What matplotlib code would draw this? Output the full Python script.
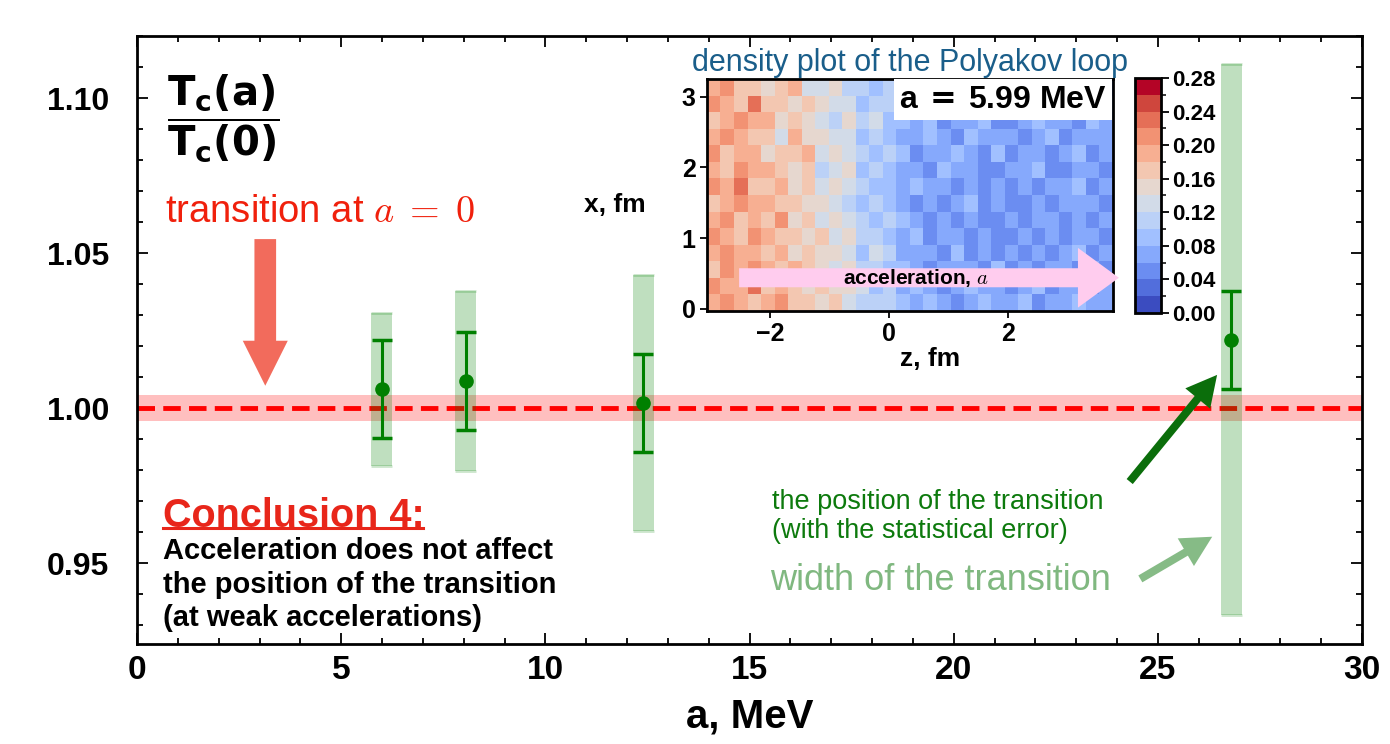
import numpy as np
import matplotlib
matplotlib.use('Agg')
import matplotlib.pyplot as plt
from matplotlib.ticker import MultipleLocator, FormatStrFormatter

plt.rcParams['font.family'] = ['Liberation Sans', 'DejaVu Sans']
plt.rcParams['font.weight'] = 'bold'
plt.rcParams['axes.labelweight'] = 'bold'

# critical temperature ratio vs acceleration
a_vals = [5.99, 8.05, 12.4, 26.8]
tc_ratio = [1.0060, 1.0088, 1.0017, 1.0220]
tc_err = [0.0158, 0.0158, 0.0158, 0.0157]
tc_width = [0.0247, 0.0291, 0.0412, 0.0889]
tc0 = 1.0
tc0_err = 0.0041

# inset: Polyakov loop density, level index per cell (value = 0.02*level + 0.01)
# rows listed from top (x = 3.25 fm) to bottom (x = 0), columns along z
poly_rows = [
    "9a88" "7896" "675" "545" "4334342334233432",
    "a98b" "8878" "766" "455" "3433423342324334",
    "89a9" "9787" "657" "564" "4342334223433243",
    "9a98" "8697" "766" "454" "3343243332342333",
    "a899" "7889" "676" "545" "4233432423323423",
    "98a9" "9878" "567" "454" "3324332233422332",
    "a9b8" "8978" "676" "544" "3433232323233423",
    "89a9" "9887" "765" "454" "3232342322323332",
    "9a89" "8a78" "676" "545" "4323232232332323",
    "a98a" "9887" "867" "554" "3423323223232332",
    "9a99" "8978" "776" "465" "3332423232323423",
    "8a9a" "9898" "767" "554" "4323332423233232",
    "a99b" "8987" "877" "645" "3432343323423323",
    "9a98" "9a88" "786" "555" "4343234334233433",
]
z_range = (-3.06, 3.76)
x_range = (-0.03, 3.25)

poly = np.array([[int(c, 16) * 0.02 + 0.01 for c in row] for row in poly_rows])[::-1]

fig = plt.figure(figsize=(13.9, 7.44), dpi=100)
ax = fig.add_axes([0.0986, 0.1344, 0.8813, 0.8172])

# reference band at a = 0
ax.axhspan(tc0 - tc0_err, tc0 + tc0_err, color='red', alpha=0.25, lw=0, zorder=1)
ax.axhline(tc0, color='red', lw=3.5, ls=(0, (3.6, 1.7)), zorder=2)

# transition width bands
lo = np.array(tc_ratio) - np.array(tc_width)
hi = np.array(tc_ratio) + np.array(tc_width)
ax.bar(a_vals, hi - lo, bottom=lo, width=0.52, color='green', alpha=0.25, lw=0, zorder=2)
ax.hlines(lo, np.array(a_vals) - 0.26, np.array(a_vals) + 0.26, color='green', alpha=0.2, lw=2)
ax.hlines(hi, np.array(a_vals) - 0.26, np.array(a_vals) + 0.26, color='green', alpha=0.2, lw=2)

ax.errorbar(a_vals, tc_ratio, yerr=tc_err, fmt='o', color='green', ms=9.5,
            capsize=7.5, elinewidth=2.2, capthick=2.5, zorder=4)

ax.set_xlim(0, 30)
ax.set_ylim(0.9239, 1.12)
ax.xaxis.set_major_locator(MultipleLocator(5))
ax.xaxis.set_minor_locator(MultipleLocator(1))
ax.yaxis.set_major_locator(MultipleLocator(0.05))
ax.yaxis.set_minor_locator(MultipleLocator(0.01))
ax.yaxis.set_major_formatter(FormatStrFormatter('%.2f'))
ax.tick_params(which='both', direction='in', top=True, right=True, width=1.3)
ax.tick_params(which='major', length=8, labelsize=24)
ax.tick_params(axis='y', labelsize=23, pad=20)
ax.tick_params(which='minor', length=4.5)
ax.tick_params(axis='x', pad=8)
for s in ax.spines.values():
    s.set_linewidth(2)
ax.set_xlabel('a, MeV', fontsize=29, labelpad=8)

# annotations
ax.text(2.1, 1.0935, r'$\mathbf{\dfrac{T_c(a)}{T_c(0)}}$', fontsize=29,
        ha='center', va='center', math_fontfamily='dejavusans')
ax.text(0.69, 1.0632, r'transition at $a\;=\;0$', color='#f0200c', fontsize=27.5,
        fontweight='normal', ha='left', va='center', math_fontfamily='cm')
ax.annotate('', xy=(3.14, 1.0072), xytext=(3.14, 1.0545),
            arrowprops=dict(arrowstyle='simple,head_length=1.08,head_width=1.08,tail_width=0.52',
                            mutation_scale=30, color='#f26b5c', shrinkA=0, shrinkB=0, lw=0))

ax.text(0.64, 0.9653, 'Conclusion 4:', color='#e8261a', fontsize=28.5, ha='left', va='center')
ax.plot([0.64, 7.0], [0.9612, 0.9612], color='#e8261a', lw=2.2)
ax.text(0.64, 0.9430, 'Acceleration does not affect\nthe position of the transition\n(at weak accelerations)',
        fontsize=21, ha='left', va='center', linespacing=1.25)

ax.text(15.56, 0.9650, 'the position of the transition\n(with the statistical error)',
        color='#0d7a0d', fontsize=19.5, fontweight='normal', ha='left', va='center', linespacing=1.15)
ax.annotate('', xy=(26.45, 1.0107), xytext=(24.31, 0.9763),
            arrowprops=dict(arrowstyle='simple,head_length=1.0,head_width=1.05,tail_width=0.26',
                            mutation_scale=22, color='#0b6e0b', shrinkA=0, shrinkB=0, lw=0))
ax.text(15.5, 0.9443, 'width of the transition', color='#80b880', fontsize=26,
        fontweight='normal', ha='left', va='center')
ax.annotate('', xy=(26.33, 0.9585), xytext=(24.57, 0.9449),
            arrowprops=dict(arrowstyle='simple,head_length=1.0,head_width=1.05,tail_width=0.26',
                            mutation_scale=22, color='#86bb86', shrinkA=0, shrinkB=0, lw=0))

# inset density plot
ax_in = fig.add_axes([0.5086, 0.582, 0.2921, 0.3118])
z_edges = np.linspace(z_range[0], z_range[1], poly.shape[1] + 1)
x_edges = np.linspace(x_range[0], x_range[1], poly.shape[0] + 1)
cmap = plt.get_cmap('coolwarm', 14)
mesh = ax_in.pcolormesh(z_edges, x_edges, poly, cmap=cmap, vmin=0.0, vmax=0.28)
ax_in.set_xlim(z_range)
ax_in.set_ylim(x_range)
ax_in.set_xticks([-2, 0, 2])
ax_in.set_yticks([0, 1, 2, 3])
ax_in.tick_params(labelsize=18, length=5, width=1.3, pad=3)
for s in ax_in.spines.values():
    s.set_linewidth(2)
ax_in.set_xlabel('z, fm', fontsize=19)
ax_in.xaxis.set_label_coords(0.55, -0.155)
ax_in.text(-0.227, 0.457, 'x, fm', fontsize=19, ha='center', va='center', transform=ax_in.transAxes)
ax_in.set_title('density plot of the Polyakov loop', fontsize=22, fontweight='normal',
                color='#1a5e8a', pad=6)
ax_in.text(0.985, 0.975, r'a$\,\mathbf{=}\,$5.99 MeV', fontsize=23, ha='right', va='top',
           transform=ax_in.transAxes, math_fontfamily='dejavusans',
           bbox=dict(fc='white', ec='none', pad=4))
ax_in.annotate('', xy=(3.86, 0.44), xytext=(-2.52, 0.44), annotation_clip=False,
               arrowprops=dict(arrowstyle='simple,head_length=2.95,head_width=4.3,tail_width=1.37',
                               mutation_scale=10, color='#ffccee', shrinkA=0, shrinkB=0, lw=0))
ax_in.text(0.45, 0.44, r'acceleration, $a$', fontsize=15, ha='center', va='center',
           math_fontfamily='cm')

cax = fig.add_axes([0.8165, 0.5793, 0.0187, 0.3159])
cb = fig.colorbar(mesh, cax=cax, ticks=np.arange(0, 0.29, 0.04))
cb.ax.yaxis.set_major_formatter(FormatStrFormatter('%.2f'))
cb.ax.yaxis.set_minor_locator(MultipleLocator(0.02))
cb.ax.tick_params(labelsize=16, length=6, width=1.3, pad=2)
cb.ax.tick_params(which='minor', length=3.5, width=1.1)
cb.outline.set_linewidth(2)

fig.savefig('out.png', dpi=100)
